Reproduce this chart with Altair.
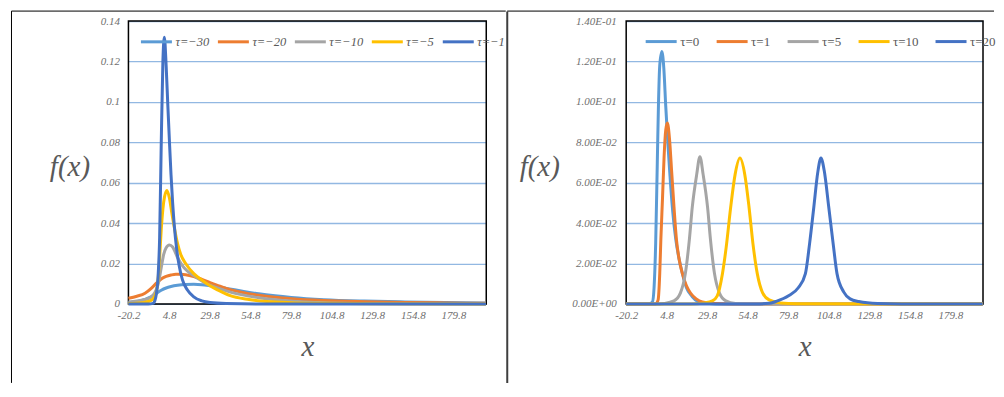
import altair as alt
import pandas as pd

# ---------------- data ----------------
x_ticks = [-20.2, 4.8, 29.8, 54.8, 79.8, 104.8, 129.8, 154.8, 179.8]
y_ticks = [0, 0.02, 0.04, 0.06, 0.08, 0.1, 0.12, 0.14]

left_labels = ["τ=−30", "τ=−20", "τ=−10", "τ=−5", "τ=−1"]
right_labels = ["τ=0", "τ=1", "τ=5", "τ=10", "τ=20"]
palette = ["#5B9BD5", "#ED7D31", "#A5A5A5", "#FFC000", "#4472C4"]

# left panel (negative tau)
x_m30 = [-20.2, -15, -10, -6, -3, 0, 3, 6, 10, 15, 20, 25, 30, 40, 50, 60, 70, 80, 100, 125, 150, 175, 199.8]
f_m30 = [0.0006, 0.0012, 0.0022, 0.0036, 0.0052, 0.0068, 0.0079, 0.0086, 0.0092, 0.0096, 0.0097, 0.0095, 0.0090,
         0.0077, 0.0063, 0.0050, 0.0040, 0.0032, 0.0021, 0.0014, 0.0010, 0.0007, 0.0005]

x_m20 = [-20.2, -15, -10, -6, -3, 0, 3, 6, 9, 12, 15, 20, 25, 30, 35, 40, 50, 60, 70, 80, 100, 125, 150, 175, 199.8]
f_m20 = [0.0028, 0.0038, 0.0053, 0.0078, 0.0103, 0.0124, 0.0136, 0.0143, 0.0147, 0.0147, 0.0145, 0.0136, 0.0122,
         0.0106, 0.0091, 0.0077, 0.0057, 0.0043, 0.0033, 0.0026, 0.0017, 0.0011, 0.0007, 0.0005, 0.0003]

x_m10 = [-20.2, -15, -10, -6, -4, -2, 0, 1.5, 3, 5, 7, 10, 13, 16, 21, 28, 35, 42, 50, 60, 72, 85, 100, 130, 160, 199.8]
f_m10 = [0.0010, 0.0015, 0.0022, 0.0036, 0.0055, 0.0095, 0.0180, 0.0245, 0.0278, 0.0292, 0.0282, 0.0230, 0.0190,
         0.0163, 0.0135, 0.0100, 0.0078, 0.0060, 0.0045, 0.0031, 0.0019, 0.0011, 0.0006, 0.0002, 0.0001, 0.0]

x_m5 = [-20.2, -12, -8, -5, -3, -2, -1, 0, 1, 2, 3.5, 5, 6.5, 8, 10, 12, 15, 20, 25, 30, 35, 42, 54, 65, 80, 100, 130, 199.8]
f_m5 = [0.0002, 0.0006, 0.0012, 0.0025, 0.0060, 0.0120, 0.0230, 0.0370, 0.0470, 0.0530, 0.0562, 0.0525, 0.0450,
        0.0380, 0.0300, 0.0245, 0.0200, 0.0150, 0.0118, 0.0090, 0.0068, 0.0042, 0.0022, 0.0012, 0.0006, 0.0003,
        0.0001, 0.0]

x_m1 = [-20.2, -8, -5, -4, -3, -2, -1, 0, 1, 1.9, 3, 4, 5, 6, 7, 8, 9.5, 11, 13, 16, 20, 25, 30, 40, 60, 199.8]
f_m1 = [0.0, 0.0, 0.0003, 0.0015, 0.0050, 0.0130, 0.0330, 0.0800, 0.1200, 0.1320, 0.1180, 0.0990, 0.0810, 0.0640,
        0.0500, 0.0390, 0.0270, 0.0190, 0.0120, 0.0070, 0.0035, 0.0015, 0.0007, 0.0002, 0.0, 0.0]

# right panel (non-negative tau)
x_p0 = [-20.2, -6, -4, -3, -2, -1, -0.3, 0.5, 1.8, 3, 4.2, 5.5, 6.7, 8.5, 10.4, 12.5, 14.5, 17, 20.6, 24, 27, 35, 199.8]
f_p0 = [0, 0, 0.001, 0.008, 0.030, 0.070, 0.098, 0.118, 0.1250, 0.117, 0.098, 0.080, 0.065, 0.046, 0.032, 0.022,
        0.015, 0.008, 0.0036, 0.0012, 0.0004, 0, 0]

x_p1 = [-20.2, -2, -0.5, 0.5, 1.2, 2.2, 3.2, 4.2, 5.2, 6.5, 7.9, 9.3, 10.8, 12.5, 14.5, 17, 19.6, 23, 26.8, 35, 45, 199.8]
f_p1 = [0, 0, 0.002, 0.015, 0.032, 0.052, 0.073, 0.086, 0.0895, 0.082, 0.065, 0.048, 0.032, 0.022, 0.015, 0.009,
        0.0053, 0.0025, 0.001, 0.0002, 0, 0]

x_p5 = [-20.2, 0, 3.3, 9.3, 13.3, 16.3, 18.8, 20.6, 23.3, 25.3, 27.3, 30, 31.8, 34.3, 37.3, 41.3, 47.3, 55, 199.8]
f_p5 = [0, 0, 0.0002, 0.0015, 0.0055, 0.015, 0.032, 0.048, 0.064, 0.0729, 0.064, 0.048, 0.032, 0.015, 0.0055,
        0.0015, 0.0002, 0, 0]

x_p10 = [-20.2, 20, 28, 33, 36, 39.2, 41.5, 44.3, 47, 50, 53, 55.6, 58, 60.7, 64, 68, 75, 85, 199.8]
f_p10 = [0, 0, 0.0005, 0.0015, 0.004, 0.015, 0.028, 0.048, 0.064, 0.0722, 0.064, 0.048, 0.030, 0.015, 0.0055,
         0.002, 0.0005, 0.0001, 0]

x_p20 = [-20.2, 60, 68, 72, 80, 86, 90.4, 93, 95.6, 98, 100, 102, 104.8, 107.5, 109.9, 114, 118, 123.3, 135, 150, 199.8]
f_p20 = [0, 0, 0.0003, 0.0012, 0.004, 0.008, 0.015, 0.030, 0.048, 0.065, 0.0722, 0.066, 0.048, 0.030, 0.015,
         0.006, 0.0025, 0.0012, 0.0002, 0, 0]


def frame(labels, xs, fs):
    rows = []
    for lab, xv, fv in zip(labels, xs, fs):
        for a, b in zip(xv, fv):
            rows.append({"series": lab, "x": a, "f": b})
    return pd.DataFrame(rows)


left_df = frame(left_labels, [x_m30, x_m20, x_m10, x_m5, x_m1], [f_m30, f_m20, f_m10, f_m5, f_m1])
right_df = frame(right_labels, [x_p0, x_p1, x_p5, x_p10, x_p20], [f_p0, f_p1, f_p5, f_p10, f_p20])

SERIF = "Liberation Serif"
LABEL_C = "#6f6f6f"
TITLE_C = "#595959"
GRID_C = "#92B8E2"
H = 283
X_EXPR = "datum.value < 0 ? '-' + format(-datum.value, '.1f') : format(datum.value, '.1f')"
one = alt.Data(values=[{}])


def panel(df, labels, width, y_expr, y_pad, ytitle_x, legend_x, legend_italic, col_pad, leg_size):
    xax = alt.Axis(values=x_ticks, labelExpr=X_EXPR, grid=False, ticks=False, domain=False,
                   labelFlush=False, labelPadding=6, labelFontSize=11, labelFont=SERIF,
                   labelFontStyle="italic", labelColor=LABEL_C, title="x", titleFont=SERIF,
                   titleFontSize=29, titleFontStyle="italic", titleFontWeight="normal",
                   titleColor=TITLE_C, titleY=52, titleBaseline="alphabetic")
    yax = alt.Axis(values=y_ticks, labelExpr=y_expr, grid=True, gridColor=GRID_C, gridWidth=1.3,
                   ticks=False, domain=False, labelFlush=False, labelPadding=y_pad, labelFontSize=11,
                   labelFont=SERIF, labelFontStyle="italic", labelColor=LABEL_C, title="f(x)",
                   titleFont=SERIF, titleFontSize=29, titleFontStyle="italic", titleFontWeight="normal",
                   titleColor=TITLE_C, titleAngle=0, titleX=ytitle_x, titleY=145,
                   titleAlign="center", titleBaseline="middle")
    leg = alt.Legend(title=None, orient="none", legendX=legend_x, legendY=3.5, direction="horizontal",
                     symbolType="stroke", symbolSize=961,
                     symbolStrokeWidth=3, labelFont=SERIF, labelFontSize=leg_size,
                     labelFontStyle="italic" if legend_italic else "normal", labelColor=TITLE_C,
                     labelOffset=2, columnPadding=col_pad, padding=0)
    box = alt.Chart(one).mark_rect(fillOpacity=0, stroke="#000000", strokeWidth=1.5).encode(
        x=alt.value(0), x2=alt.value(width), y=alt.value(0), y2=alt.value(H))
    lines = alt.Chart(df).mark_line(interpolate="monotone", strokeWidth=3).encode(
        x=alt.X("x:Q", scale=alt.Scale(domain=[-20.2, 200], nice=False, zero=False), axis=xax),
        y=alt.Y("f:Q", scale=alt.Scale(domain=[0, 0.14], nice=False), axis=yax),
        color=alt.Color("series:N", scale=alt.Scale(domain=labels, range=palette), sort=labels, legend=leg),
    )
    return box, lines.properties(width=width, height=H)


left_box, left_lines = panel(left_df, left_labels, 358, "format(datum.value, '~g')", 9, -59, 11, True, 2, 12.5)
left_border_v = alt.Chart(one).mark_rule(color="#000000", strokeWidth=1).encode(
    x=alt.value(-117), y=alt.value(-10), y2=alt.value(362))
left_border_h = alt.Chart(one).mark_rule(color="#000000", strokeWidth=1).encode(
    x=alt.value(-117), x2=alt.value(377.5), y=alt.value(-10))
left = alt.layer(left_box, left_lines, left_border_v, left_border_h)

right_expr = ("datum.value == 0 ? '0.00E+00' : (datum.value < 0.099 ? format(datum.value * 100, '.2f') + 'E-02'"
              " : format(datum.value * 10, '.2f') + 'E-01')")
right_box, right_lines = panel(right_df, right_labels, 357, right_expr, 10, -87, 18, False, 10, 13)
sep = alt.Chart(one).mark_rule(color="#3f3f3f", strokeWidth=2).encode(
    x=alt.value(-119), y=alt.value(-9.5), y2=alt.value(362))
right_border_h = alt.Chart(one).mark_rule(color="#000000", strokeWidth=1).encode(
    x=alt.value(-119), x2=alt.value(368), y=alt.value(-10))
right = alt.layer(right_box, right_lines, sep, right_border_h)

chart = alt.hconcat(left, right, spacing=0).resolve_scale(
    x="independent", y="independent", color="independent"
).resolve_legend(color="independent").properties(
    padding={"left": 2.5, "top": 2, "right": 0, "bottom": 0}
).configure_view(stroke=None)

chart.save("out.html", embed_options={"renderer": "svg", "actions": False})
